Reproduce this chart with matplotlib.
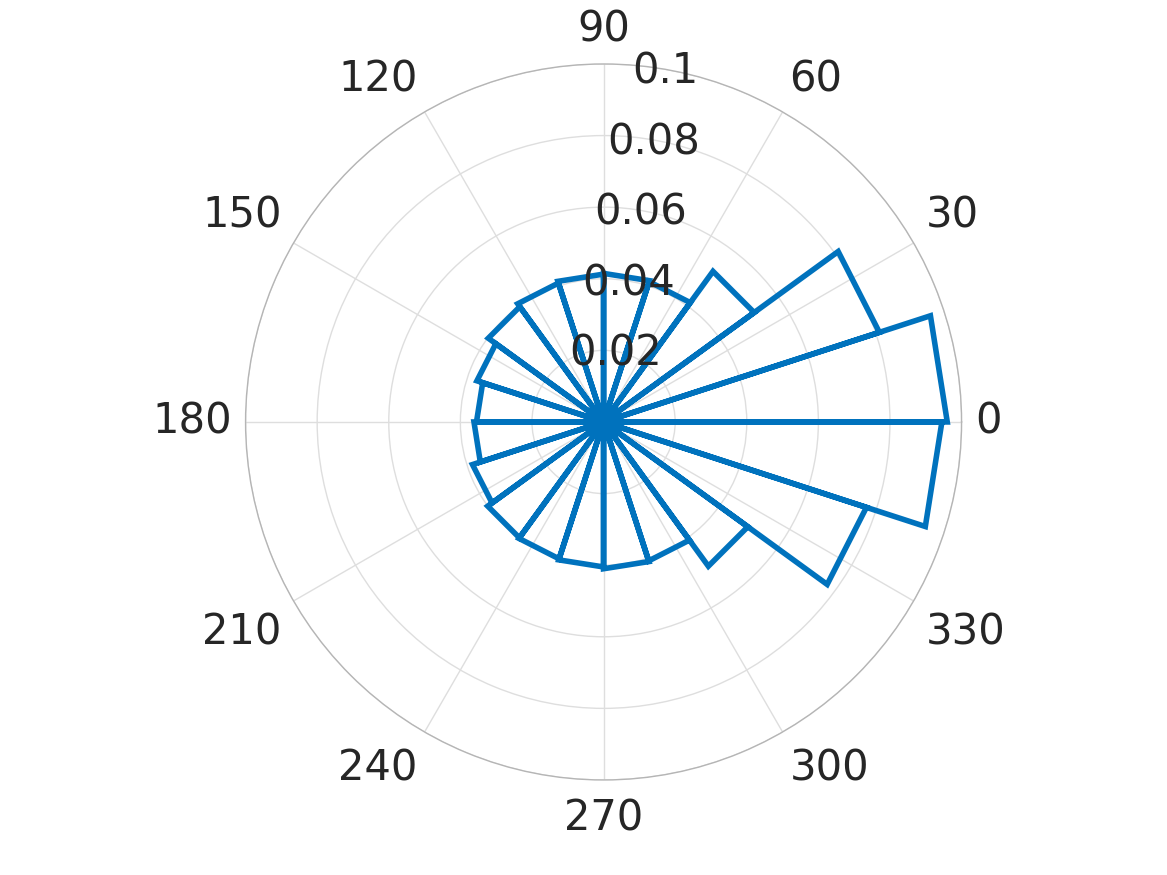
import numpy as np
import matplotlib.pyplot as plt
from matplotlib.transforms import offset_copy

# bin edges in degrees (20 bins of 18 deg) and normalized counts per bin
bin_edges = np.arange(0, 361, 18)
bin_values = [0.0960, 0.0810, 0.0520, 0.0412, 0.0415, 0.0413, 0.0408, 0.0398,
              0.0372, 0.0355, 0.0362, 0.0385, 0.0400, 0.0402, 0.0405, 0.0410,
              0.0408, 0.0498, 0.0772, 0.0945]
theta_ticks = list(range(0, 360, 30))
theta_labels = [str(t) for t in theta_ticks]
r_ticks = [0.02, 0.04, 0.06, 0.08, 0.1]
r_labels = ['0.02', '0.04', '0.06', '0.08', '0.1']
r_max = 0.1

# rose style outline: origin -> edge k -> edge k+1 -> origin
th = []
rr = []
for k, v in enumerate(bin_values):
    a1 = np.deg2rad(bin_edges[k])
    a2 = np.deg2rad(bin_edges[k + 1])
    th += [0, a1, a2, 0]
    rr += [0, v, v, 0]

txt = '#262626'
fig = plt.figure(figsize=(11.67, 8.75), dpi=100)
ax = fig.add_axes([0.2104, 0.1086, 0.6136, 0.8183], projection='polar')

ax.plot(th, rr, color='#0072BD', lw=4, solid_joinstyle='miter', zorder=3)

ax.set_ylim(0, r_max)
ax.set_thetagrids(theta_ticks, [''] * len(theta_ticks))
ax.set_rgrids(r_ticks, [''] * len(r_ticks))
ax.grid(True, color='#dedede', lw=1)
ax.spines['polar'].set_color('#b5b5b5')
ax.spines['polar'].set_linewidth(1)

# theta labels, matlab style alignment
low = offset_copy(ax.transData, fig=fig, x=0, y=-4, units='dots')
for t, lab in zip(theta_ticks, theta_labels):
    c = np.cos(np.deg2rad(t))
    s = np.sin(np.deg2rad(t))
    ha = 'left' if c > 1e-6 else ('right' if c < -1e-6 else 'center')
    va = 'bottom' if s > 1e-6 else ('top' if s < -1e-6 else 'center')
    ax.text(np.deg2rad(t), r_max * 1.038, lab, ha=ha, va=va, fontsize=30,
            color=txt, clip_on=False,
            transform=low if va == 'top' else ax.transData)

# r labels along 80 deg
tr = offset_copy(ax.transData, fig=fig, x=0, y=-2.5, units='dots')
for r, lab in zip(r_ticks, r_labels):
    ax.text(np.deg2rad(80), r, lab, ha='center', va='center', fontsize=30,
            color=txt, transform=tr, zorder=4)

fig.savefig('out.png', dpi=100)
